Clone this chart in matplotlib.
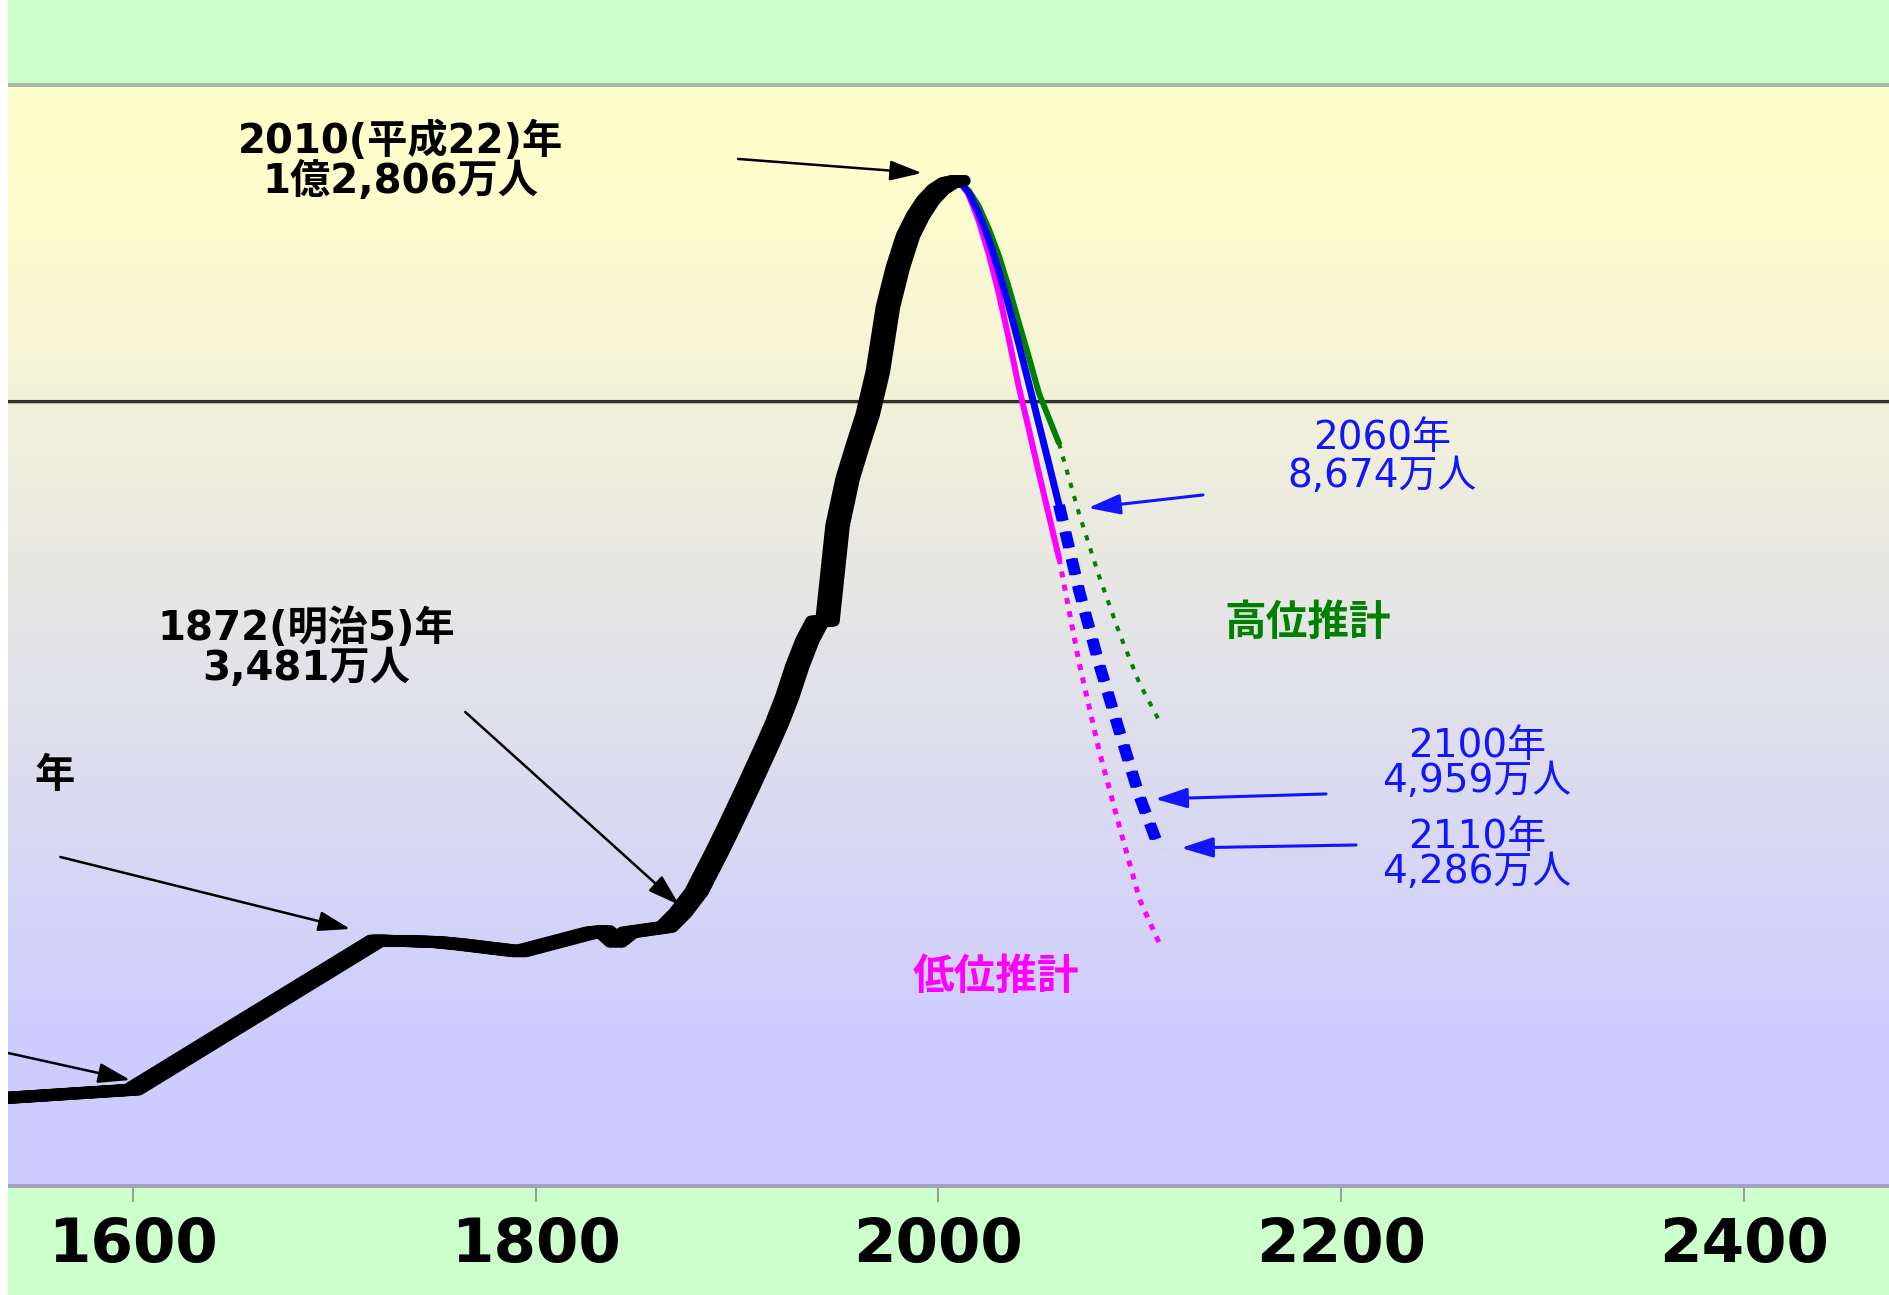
import numpy as np
import matplotlib
matplotlib.use("Agg")
import matplotlib.pyplot as plt
import matplotlib.patheffects as pe
from matplotlib.patches import Rectangle
from matplotlib.colors import to_rgb

# ---- data: total population of Japan (万人) ----
hist_years = [1530, 1600, 1721, 1750, 1762, 1792, 1828, 1834, 1840, 1846, 1865, 1872,
              1880, 1890, 1895, 1900, 1905, 1910, 1915, 1920, 1925, 1930, 1935, 1940,
              1945, 1950, 1955, 1960, 1965, 1970, 1975, 1980, 1985, 1990, 1995, 2000,
              2005, 2010]
hist_pop = [1110, 1227, 3128, 3110, 3080, 2987, 3230, 3248, 3110, 3230, 3300, 3481,
            3750, 4250, 4510, 4780, 5050, 5330, 5610, 5900, 6230, 6620, 6950, 7193,
            7199, 8411, 9010, 9430, 9830, 10372, 11194, 11706, 12105, 12361, 12557, 12693,
            12777, 12806]

# projections 2010-2060 (solid) and extension 2060-2110 (dotted)
proj_years = [2010, 2015, 2020, 2025, 2030, 2035, 2040, 2045, 2050, 2055, 2060]
mid_pop = [12806, 12660, 12400, 12066, 11660, 11212, 10728, 10221, 9708, 9193, 8674]
high_pop = [12806, 12690, 12490, 12200, 11860, 11450, 11000, 10560, 10100, 9780, 9460]
low_pop = [12806, 12630, 12300, 11880, 11380, 10800, 10180, 9640, 9080, 8540, 7997]

ext_years = [2060, 2070, 2080, 2090, 2100, 2110]
mid_ext = [8674, 7580, 6640, 5790, 4959, 4286]
high_ext = [9460, 8560, 7760, 7040, 6400, 5915]
low_ext = [7997, 6660, 5537, 4576, 3650, 3080]

x_ticks = [1600, 1800, 2000, 2200, 2400]

# ---- figure ----
W, H = 1890, 1295
DPI = 100
fig = plt.figure(figsize=(W / DPI, H / DPI), dpi=DPI, facecolor="#CCFFCC")
fig.patches.append(Rectangle((0, 0), 8 / W, 1, transform=fig.transFigure,
                             facecolor="white", edgecolor="none", zorder=0))

ax_left, ax_right = 8, W
ax_top, ax_bot = 85, 1186
ax = fig.add_axes([ax_left / W, (H - ax_bot) / H, (ax_right - ax_left) / W,
                   (ax_bot - ax_top) / H])
ax.set_xlim(1538, 2472.7)
ax.set_ylim(0, 14025)

# vertical background gradient: light yellow at top to light lavender at bottom
top_c = np.array(to_rgb("#FFFFCC"))
bot_c = np.array(to_rgb("#CCCCFF"))
t = np.linspace(0, 1, 512)
f = np.clip((t - 0.08) / (0.88 - 0.08), 0, 1)
grad = top_c[None, :] * (1 - f[:, None]) + bot_c[None, :] * f[:, None]
ax.imshow(grad[:, None, :], extent=[0, 1, 0, 1], transform=ax.transAxes,
          aspect="auto", interpolation="bilinear", zorder=0)

# 1億 reference line
ax.axhline(10000, color="#BDBDA8", lw=1.6, zorder=1,
           path_effects=[pe.Stroke(offset=(0, -1.6)), pe.Normal()])
ax.axhline(10000, color="#333328", lw=2.2, zorder=1.1)


def spread(half_pt, n):
    return [pe.Stroke(offset=(o, 0)) for o in np.linspace(-half_pt, half_pt, n)]


# projections: solid part
ax.plot(proj_years, high_pop, color="#008000", lw=2.2, zorder=2,
        solid_capstyle="round", path_effects=spread(1.1, 3))
ax.plot(proj_years, low_pop, color="#FF00FF", lw=2.2, zorder=2,
        solid_capstyle="round", path_effects=spread(1.1, 3))
ax.plot(proj_years, mid_pop, color="#0000FF", lw=2.9, zorder=3,
        solid_capstyle="round", path_effects=spread(1.1, 3))

# projections: dotted extension
ax.plot(ext_years, high_ext, color="#008000", lw=2.9, dashes=(1.3, 2.1), zorder=2)
ax.plot(ext_years, low_ext, color="#FF00FF", lw=3.6, dashes=(1.2, 1.5), zorder=2)
ax.plot(ext_years, mid_ext, color="#0000FF", lw=5.8, dashes=(2.0, 1.43), zorder=3,
        path_effects=spread(1.4, 3))

# historical population
ax.plot(hist_years, hist_pop, color="black", lw=8.3, zorder=5,
        solid_capstyle="round", solid_joinstyle="round",
        path_effects=spread(4.7, 8))

# ---- annotations ----
lab_font = ["DejaVu Sans", "Noto Sans CJK JP"]
black_arrow = dict(arrowstyle="-|>,head_length=0.7,head_width=0.22", color="black",
                   lw=1.8, shrinkA=0, shrinkB=0, mutation_scale=28)
blue_arrow = dict(arrowstyle="-|>,head_length=0.7,head_width=0.22", color="#1414FF",
                  lw=2.2, shrinkA=0, shrinkB=0, mutation_scale=28)

ax.annotate("", xy=(1991.9, 12904), xytext=(1900.6, 13083), arrowprops=black_arrow, zorder=6)
ax.annotate("", xy=(1871.4, 3580), xytext=(1765.1, 6038), arrowprops=black_arrow, zorder=6)
ax.annotate("", xy=(1708.0, 3274), xytext=(1564.0, 4191), arrowprops=black_arrow, zorder=6)
ax.annotate("", xy=(1598.7, 1350), xytext=(1538.1, 1694), arrowprops=black_arrow, zorder=6)

ax.annotate("", xy=(2074.4, 8637), xytext=(2131.5, 8803), arrowprops=blue_arrow, zorder=6)
ax.annotate("", xy=(2107.7, 4930), xytext=(2192.6, 4994), arrowprops=blue_arrow, zorder=6)
ax.annotate("", xy=(2120.6, 4306), xytext=(2207.5, 4344), arrowprops=blue_arrow, zorder=6)

ax.text(1733, 13050, "2010(平成22)年\n1億2,806万人", family=lab_font, fontsize=29,
        weight="bold", ha="center", va="center", linespacing=1.0, zorder=7)
ax.text(1686, 6841, "1872(明治5)年\n3,481万人", family=lab_font, fontsize=29,
        weight="bold", ha="center", va="center", linespacing=1.0, zorder=7)
ax.text(1561, 5223, "年", family=lab_font, fontsize=29, weight="bold",
        ha="center", va="center", zorder=7)

blue_txt = "#1414FF"
ax.text(2220.4, 9287, "2060年\n8,674万人", family=lab_font, fontsize=28,
        color=blue_txt, ha="center", va="center", linespacing=1.0, zorder=7)
ax.text(2267.6, 5376, "2100年\n4,959万人", family=lab_font, fontsize=28,
        color=blue_txt, ha="center", va="center", linespacing=0.9, zorder=7)
ax.text(2267.6, 4223, "2110年\n4,286万人", family=lab_font, fontsize=28,
        color=blue_txt, ha="center", va="center", linespacing=0.9, zorder=7)

ax.text(2183.7, 7172, "高位推計", family=lab_font, fontsize=30, weight="bold",
        color="#008000", ha="center", va="center", zorder=7)
ax.text(2028.7, 2662, "低位推計", family=lab_font, fontsize=30, weight="bold",
        color="#FF00FF", ha="center", va="center", zorder=7)

# ---- axes styling ----
for side in ("left", "right"):
    ax.spines[side].set_visible(False)
ax.spines["top"].set_color("#A9B5A9")
ax.spines["top"].set_linewidth(2.9)
ax.spines["bottom"].set_color("#A6A2BC")
ax.spines["bottom"].set_linewidth(2.9)
ax.set_yticks([])
ax.set_xticks(x_ticks)
ax.set_xticklabels([str(v) for v in x_ticks])
ax.tick_params(axis="x", direction="out", length=11.5, width=1.4, color="#9A9A9A",
               pad=10, labelsize=44)
for lab in ax.get_xticklabels():
    lab.set_family("DejaVu Sans")
    lab.set_weight("bold")

fig.savefig("out.png", dpi=DPI, facecolor=fig.get_facecolor())
